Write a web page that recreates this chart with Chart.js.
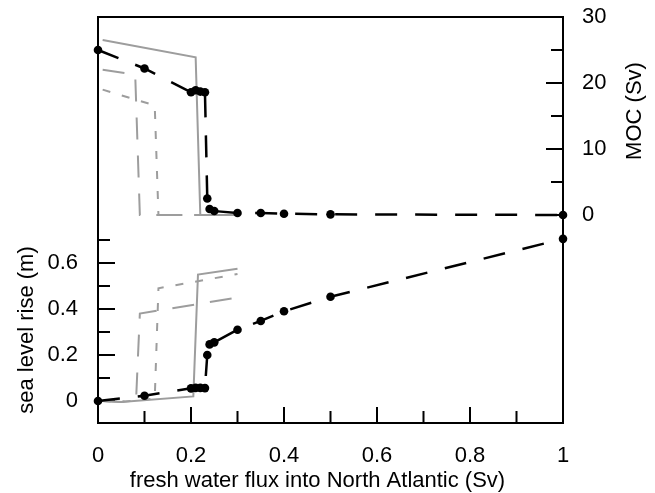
<!DOCTYPE html>
<html>
<head>
<meta charset="utf-8">
<script src="https://cdn.jsdelivr.net/npm/chart.js@4"></script>
<style>
  html, body { margin: 0; padding: 0; background: #fff; }
  canvas { display: block; }
</style>
</head>
<body>
<canvas id="chart" width="655" height="493"></canvas>
<script>
// model runs: fresh water flux (Sv) -> MOC (Sv) and sea level rise (m)
const fluxRuns = [0, 0.1, 0.2, 0.21, 0.22, 0.23, 0.235, 0.24, 0.25, 0.3, 0.35, 0.4, 0.5, 1.0];
const mocRuns = [25, 22.2, 18.6, 18.9, 18.7, 18.6, 2.5, 0.9, 0.6, 0.3, 0.3, 0.2, 0.1, 0];
const slrRuns = [0, 0.023, 0.055, 0.057, 0.057, 0.056, 0.2, 0.246, 0.255, 0.31, 0.348, 0.39, 0.453, 0.705];

// grey curves, MOC panel
const mocSolidX = [0.01, 0.21, 0.22, 0.3];
const mocSolidY = [26.5, 23.9, 0, 0];
const mocLongX = [0.01, 0.08, 0.09, 0.3];
const mocLongY = [22, 21.3, 0, 0];
const mocShortX = [0.01, 0.122, 0.13, 0.3];
const mocShortY = [19, 16.6, 0, 0];

// grey curves, sea level panel
const slrSolidX = [0.01, 0.05, 0.205, 0.215, 0.3];
const slrSolidY = [0, -0.004, 0.02, 0.55, 0.575];
const slrLongX = [0.01, 0.05, 0.082, 0.09, 0.3];
const slrLongY = [0, -0.004, 0.01, 0.38, 0.45];
const slrShortX = [0.01, 0.05, 0.122, 0.13, 0.3];
const slrShortY = [0, -0.004, 0.01, 0.49, 0.552];

// ticks
const xTicks = [0, 0.1, 0.2, 0.3, 0.4, 0.5, 0.6, 0.7, 0.8, 0.9, 1];
const xLabels = [0, 0.2, 0.4, 0.6, 0.8, 1];
const mocTicks = [0, 5, 10, 15, 20, 25, 30];
const mocLabels = [0, 10, 20, 30];
const slrTicks = [0, 0.1, 0.2, 0.3, 0.4, 0.5, 0.6, 0.7];
const slrLabels = [0, 0.2, 0.4, 0.6];

const xTitle = "fresh water flux into North Atlantic (Sv)";
const slrTitle = "sea level rise (m)";
const mocTitle = "MOC (Sv)";

const FONT = '"Liberation Sans", Arial, sans-serif';
const GREY = "#9d9d9d";

const pts = (xs, ys) => xs.map((x, i) => ({ x: x, y: ys[i] }));

function grey(xs, ys, axis, dash) {
  return {
    data: pts(xs, ys),
    yAxisID: axis,
    borderColor: GREY,
    borderWidth: 2,
    borderDash: dash,
    pointRadius: 0,
    clip: false,
    order: 1,
  };
}

function black(ys, axis) {
  return {
    data: pts(fluxRuns, ys),
    yAxisID: axis,
    borderColor: "#000",
    borderWidth: 2.5,
    borderDash: [22, 18],
    pointRadius: 4.3,
    pointBorderWidth: 0,
    pointBackgroundColor: "#000",
    clip: false,
    order: 0,
  };
}

// no overhang padding for the y scales, so the plot box stays where we put it
function fixY(width) {
  return (s) => {
    s.width = width;
    s.paddingTop = 0;
    s.paddingBottom = 0;
  };
}

// box top, inward tick marks and axis titles
const frame = {
  id: "frame",
  beforeDatasetsDraw(chart) {
    const { ctx, chartArea: a, scales } = chart;
    ctx.save();
    ctx.strokeStyle = "#000";
    ctx.lineWidth = 2;
    ctx.beginPath();
    ctx.moveTo(a.left - 1, a.top);
    ctx.lineTo(a.right + 1, a.top);
    scales.x.ticks.forEach((t) => {
      const p = scales.x.getPixelForValue(t.value);
      ctx.moveTo(p, a.bottom);
      ctx.lineTo(p, a.bottom - (t.label ? 16 : 12));
    });
    scales.yL.ticks.forEach((t) => {
      const p = scales.yL.getPixelForValue(t.value);
      ctx.moveTo(a.left, p);
      ctx.lineTo(a.left + (t.label ? 17 : 12), p);
    });
    scales.yR.ticks.forEach((t) => {
      const p = scales.yR.getPixelForValue(t.value);
      ctx.moveTo(a.right, p);
      ctx.lineTo(a.right - (t.label ? 17 : 12), p);
    });
    ctx.stroke();

    ctx.fillStyle = "#000";
    ctx.font = "22px " + FONT;
    ctx.textAlign = "center";
    ctx.textBaseline = "alphabetic";
    ctx.fillText(xTitle, 317.5, 487);

    ctx.save();
    ctx.translate(33, 330);
    ctx.rotate(-Math.PI / 2);
    ctx.fillText(slrTitle, 0, 0);
    ctx.restore();

    ctx.save();
    ctx.translate(641, 111);
    ctx.rotate(-Math.PI / 2);
    ctx.fillText(mocTitle, 0, 0);
    ctx.restore();
    ctx.restore();
  },
};

Chart.defaults.font.family = FONT;
Chart.defaults.font.size = 22;
Chart.defaults.color = "#000";

const ctx = document.getElementById("chart").getContext("2d");
const chart = new Chart(ctx, {
  type: "line",
  data: {
    datasets: [
      black(mocRuns, "yR"),
      black(slrRuns, "yL"),
      grey(mocSolidX, mocSolidY, "yR", []),
      grey(mocLongX, mocLongY, "yR", [22, 16]),
      grey(mocShortX, mocShortY, "yR", [8, 12]),
      grey(slrSolidX, slrSolidY, "yL", []),
      grey(slrLongX, slrLongY, "yL", [22, 16]),
      grey(slrShortX, slrShortY, "yL", [8, 12]),
    ],
  },
  options: {
    responsive: false,
    animation: false,
    layout: { padding: { top: 17, left: 0, right: 0, bottom: 0 } },
    plugins: { legend: { display: false }, tooltip: { enabled: false } },
    scales: {
      x: {
        type: "linear",
        position: "bottom",
        min: 0,
        max: 1,
        afterBuildTicks: (s) => { s.ticks = xTicks.map((v) => ({ value: v })); },
        afterFit: (s) => { s.height = 70; },
        ticks: {
          callback: (v) => (xLabels.includes(v) ? String(v) : ""),
          autoSkip: false,
          maxRotation: 0,
          minRotation: 0,
          padding: 20,
        },
        grid: { drawOnChartArea: false, drawTicks: false },
        border: { color: "#000", width: 2 },
      },
      yL: {
        type: "linear",
        position: "left",
        min: -0.0957,
        max: 1.6696,
        afterBuildTicks: (s) => { s.ticks = slrTicks.map((v) => ({ value: v })); },
        afterFit: fixY(98),
        ticks: {
          callback: (v) => (slrLabels.includes(v) ? String(v) : ""),
          autoSkip: false,
          padding: 20,
        },
        grid: { drawOnChartArea: false, drawTicks: false },
        border: { color: "#000", width: 2 },
      },
      yR: {
        type: "linear",
        position: "right",
        min: -31.515,
        max: 30,
        afterBuildTicks: (s) => { s.ticks = mocTicks.map((v) => ({ value: v })); },
        afterFit: fixY(92),
        ticks: {
          callback: (v) => (mocLabels.includes(v) ? String(v) : ""),
          autoSkip: false,
          padding: 19,
        },
        grid: { drawOnChartArea: false, drawTicks: false },
        border: { color: "#000", width: 2 },
      },
    },
  },
  plugins: [frame],
});
</script>
</body>
</html>
